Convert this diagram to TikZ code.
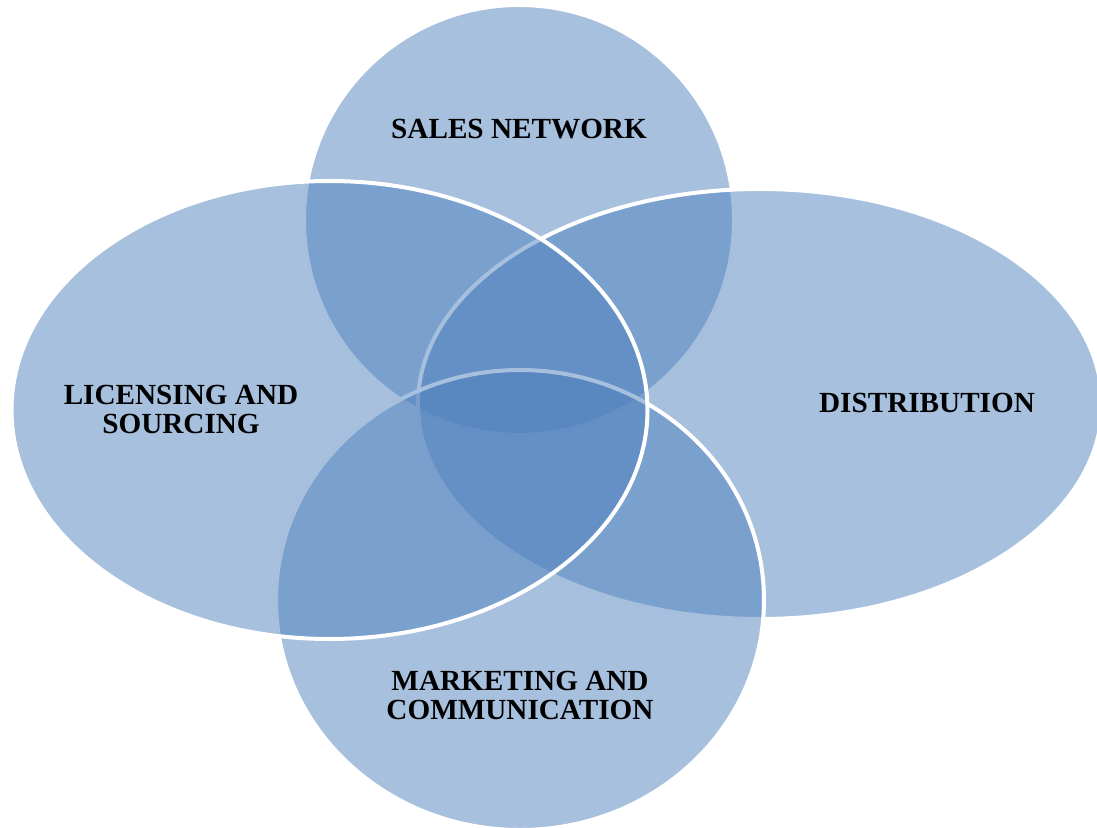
\documentclass[tikz,border=0pt]{standalone}
\usepackage{fontspec}
\setmainfont{Liberation Serif}
\usepackage{xcolor}
\usetikzlibrary{shapes.geometric}
\usetikzlibrary{positioning}
\definecolor{vennblue}{HTML}{4F81BD}

\begin{document}
\begin{tikzpicture}[x=0.5pt, y=-0.5pt,
		set_node/.style={ellipse, fill=vennblue, fill opacity=0.5, draw=white, draw opacity=1, line width=2pt, inner sep=0pt},
		set_text/.style={align=center, text=black, font=\bfseries\fontsize{14.6}{14.5}\selectfont}]
				\useasboundingbox (0, 0) rectangle (1097, 828);
				
				% the four sets, back to front
				\node[set_node, minimum width=215pt, minimum height=215pt] (1) at (519, 220) {};
				\node[set_node, minimum width=342pt, minimum height=215pt] (2) at (760, 404) {};
				\node[set_node, minimum width=244pt, minimum height=230pt] (3) at (520, 600) {};
				\node[set_node, minimum width=318pt, minimum height=229pt] (4) at (329.5, 410) {};
				
				% labels
				\node[set_text] (t1) at (519, 129) {SALES NETWORK};
				\node[set_text] (t2) at (927, 403) {DISTRIBUTION};
				\node[set_text] (t3) at (520, 695) {MARKETING AND\\COMMUNICATION};
				\node[set_text] (t4) at (181, 409) {LICENSING AND\\SOURCING};
			\end{tikzpicture}
\end{document}
